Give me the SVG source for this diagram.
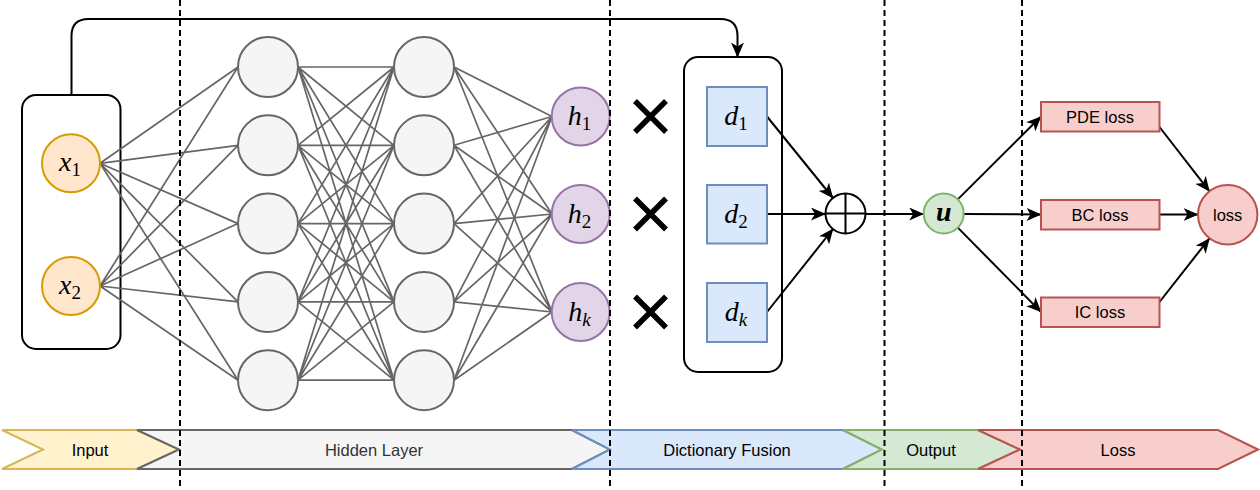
<svg xmlns="http://www.w3.org/2000/svg" width="1260" height="490" viewBox="0 0 1260 490">
<style>
.grey{fill:none;stroke:#666666;stroke-width:1.7}
.blk{fill:none;stroke:#000;stroke-width:2}
.arrow{fill:none;stroke:#000;stroke-width:2;marker-end:url(#arr)}
.in{fill:#ffe6cc;stroke:#d79b00;stroke-width:2}
.hid{fill:#f5f5f5;stroke:#666666;stroke-width:2}
.hn{fill:#e1d5e7;stroke:#9673a6;stroke-width:2}
.dn{fill:#dae8fc;stroke:#6c8ebf;stroke-width:2}
.un{fill:#d5e8d4;stroke:#82b366;stroke-width:2}
.ln{fill:#f8cecc;stroke:#b85450;stroke-width:2}
.box{fill:#fff;stroke:#000;stroke-width:2}
.m{font-family:"Liberation Serif","DejaVu Serif",serif;font-style:italic;font-size:28px;text-anchor:middle;fill:#000}
.s{font-style:normal;font-size:19px}
.t{font-family:"Liberation Sans",Arial,sans-serif;font-size:16.5px;text-anchor:middle;fill:#000}
.dash{stroke:#000;stroke-width:2;stroke-dasharray:6 4}
.times{fill:none;stroke:#000;stroke-width:5.5}
</style>
<defs>
<marker id="arr" markerUnits="userSpaceOnUse" markerWidth="15" markerHeight="13" viewBox="0 0 15 13" refX="14.5" refY="6.5" orient="auto">
<path d="M0,0 L15,6.5 L0,13 L4,6.5 z" fill="#000"/>
</marker>
</defs>

<g id="stages">
<g id="stage-input"><polygon points="2,430 137,430 179,449.5 137,469 2,469 43,449.5" fill="#fff2cc" stroke="#d6b656" stroke-width="2"/><text class="t" x="90" y="455.5">Input</text></g>
<g id="stage-hidden"><polygon points="137,430 572,430 610,449.5 572,469 137,469 179,449.5" fill="#f5f5f5" stroke="#666666" stroke-width="2"/><text class="t" x="374" y="455.5" style="fill:#333333">Hidden Layer</text></g>
<g id="stage-dict"><polygon points="572,430 843,430 882,449.5 843,469 572,469 610,449.5" fill="#dae8fc" stroke="#6c8ebf" stroke-width="2"/><text class="t" x="727" y="455.5">Dictionary Fusion</text></g>
<g id="stage-output"><polygon points="843,430 978,430 1020,449.5 978,469 843,469 882,449.5" fill="#d5e8d4" stroke="#82b366" stroke-width="2"/><text class="t" x="931" y="455.5">Output</text></g>
<g id="stage-loss"><polygon points="978,430 1218,430 1258,449.5 1218,469 978,469 1020,449.5" fill="#f8cecc" stroke="#b85450" stroke-width="2"/><text class="t" x="1118" y="455.5">Loss</text></g>
</g>

<g id="input-box"><rect class="box" x="22" y="95" width="98.5" height="254" rx="14"/></g>
<g id="dict-box"><rect class="box" x="684" y="57" width="98" height="315" rx="14"/></g>

<g id="connectors">
<path class="grey" d="M100,163.3L238,67M100,163.3L238,145.3M100,163.3L238,223.6M100,163.3L238,301.9M100,163.3L238,380.2M100,286L238,67M100,286L238,145.3M100,286L238,223.6M100,286L238,301.9M100,286L238,380.2"/>
<path class="grey" d="M298,67L394,67M298,67L394,145.3M298,67L394,223.6M298,67L394,301.9M298,67L394,380.2M298,145.3L394,67M298,145.3L394,145.3M298,145.3L394,223.6M298,145.3L394,301.9M298,145.3L394,380.2M298,223.6L394,67M298,223.6L394,145.3M298,223.6L394,223.6M298,223.6L394,301.9M298,223.6L394,380.2M298,301.9L394,67M298,301.9L394,145.3M298,301.9L394,223.6M298,301.9L394,301.9M298,301.9L394,380.2M298,380.2L394,67M298,380.2L394,145.3M298,380.2L394,223.6M298,380.2L394,301.9M298,380.2L394,380.2"/>
<path class="grey" d="M454,67L552,116.5M454,67L552,214M454,67L552,312M454,145.3L552,116.5M454,145.3L552,214M454,145.3L552,312M454,223.6L552,116.5M454,223.6L552,214M454,223.6L552,312M454,301.9L552,116.5M454,301.9L552,214M454,301.9L552,312M454,380.2L552,116.5M454,380.2L552,214M454,380.2L552,312"/>
<path class="arrow" d="M71.5,95 L71.5,36 Q71.5,19 88.5,19 L720.5,19 Q737.5,19 737.5,36 L737.5,57"/>
<path class="arrow" d="M767,116.5 L833,198"/>
<path class="arrow" d="M767,214 L825.5,214"/>
<path class="arrow" d="M767,312 L833,229"/>
<path class="arrow" d="M865.5,214 L923.7,214"/>
<path class="arrow" d="M957.8,199.4 L1041,116.5"/>
<path class="arrow" d="M963.7,214 L1041,214.5"/>
<path class="arrow" d="M957.8,227.6 L1041,312"/>
<path class="arrow" d="M1159.5,127 L1209.5,191.3"/>
<path class="arrow" d="M1159.5,214.5 L1198,214.5"/>
<path class="arrow" d="M1159.5,302 L1209.5,238.3"/>
</g>

<g id="x1"><circle class="in" cx="71" cy="163.3" r="29"/><text class="m" x="70" y="171">x<tspan class="s" dy="5">1</tspan></text></g>
<g id="x2"><circle class="in" cx="71" cy="286" r="29"/><text class="m" x="70" y="293.5">x<tspan class="s" dy="5">2</tspan></text></g>

<g id="hidden1-1"><circle class="hid" cx="268" cy="67" r="30"/></g>
<g id="hidden1-2"><circle class="hid" cx="268" cy="145.3" r="30"/></g>
<g id="hidden1-3"><circle class="hid" cx="268" cy="223.6" r="30"/></g>
<g id="hidden1-4"><circle class="hid" cx="268" cy="301.9" r="30"/></g>
<g id="hidden1-5"><circle class="hid" cx="268" cy="380.2" r="30"/></g>
<g id="hidden2-1"><circle class="hid" cx="424" cy="67" r="30"/></g>
<g id="hidden2-2"><circle class="hid" cx="424" cy="145.3" r="30"/></g>
<g id="hidden2-3"><circle class="hid" cx="424" cy="223.6" r="30"/></g>
<g id="hidden2-4"><circle class="hid" cx="424" cy="301.9" r="30"/></g>
<g id="hidden2-5"><circle class="hid" cx="424" cy="380.2" r="30"/></g>

<g id="h1"><circle class="hn" cx="580.7" cy="116.5" r="29"/><text class="m" x="579.5" y="125">h<tspan class="s" dy="5">1</tspan></text></g>
<g id="h2"><circle class="hn" cx="580.7" cy="214" r="29"/><text class="m" x="579.5" y="222.5">h<tspan class="s" dy="5">2</tspan></text></g>
<g id="hk"><circle class="hn" cx="580.7" cy="312" r="29"/><text class="m" x="579.5" y="320.5">h<tspan class="s" dy="5" style="font-style:italic">k</tspan></text></g>

<g id="times1"><path class="times" d="M635,101 L666,132 M666,101 L635,132"/></g>
<g id="times2"><path class="times" d="M635,198.5 L666,229.5 M666,198.5 L635,229.5"/></g>
<g id="timesk"><path class="times" d="M635,296.5 L666,327.5 M666,296.5 L635,327.5"/></g>

<g id="d1"><rect class="dn" x="707" y="87" width="60" height="59"/><text class="m" x="736" y="125">d<tspan class="s" dy="5">1</tspan></text></g>
<g id="d2"><rect class="dn" x="707" y="185" width="60" height="58.5"/><text class="m" x="736" y="222.5">d<tspan class="s" dy="5">2</tspan></text></g>
<g id="dk"><rect class="dn" x="707" y="283" width="60" height="59"/><text class="m" x="736" y="320.5">d<tspan class="s" dy="5" style="font-style:italic">k</tspan></text></g>

<g id="sum"><circle cx="845.5" cy="213.5" r="20" fill="#fff" stroke="#000" stroke-width="2"/><path class="blk" d="M825.5,213.5 L865.5,213.5 M845.5,193.5 L845.5,233.5"/></g>

<g id="u"><circle class="un" cx="943.7" cy="213.5" r="20"/><text class="m" x="943.7" y="220.5" font-weight="bold">u</text></g>

<g id="pde-loss"><rect class="ln" x="1041" y="102" width="118.5" height="29.5"/><text class="t" x="1100" y="122.5">PDE loss</text></g>
<g id="bc-loss"><rect class="ln" x="1041" y="200" width="118.5" height="29.5"/><text class="t" x="1100" y="220.5">BC loss</text></g>
<g id="ic-loss"><rect class="ln" x="1041" y="297.5" width="118.5" height="29.5"/><text class="t" x="1100" y="318">IC loss</text></g>
<g id="loss"><circle class="ln" cx="1227.7" cy="214.7" r="29.7"/><text class="t" x="1227.7" y="220.5">loss</text></g>

<g id="guides">
<line class="dash" x1="180" y1="0" x2="180" y2="490"/>
<line class="dash" x1="610" y1="0" x2="610" y2="490"/>
<line class="dash" x1="884.5" y1="0" x2="884.5" y2="490"/>
<line class="dash" x1="1022" y1="0" x2="1022" y2="490"/>
</g>
</svg>
